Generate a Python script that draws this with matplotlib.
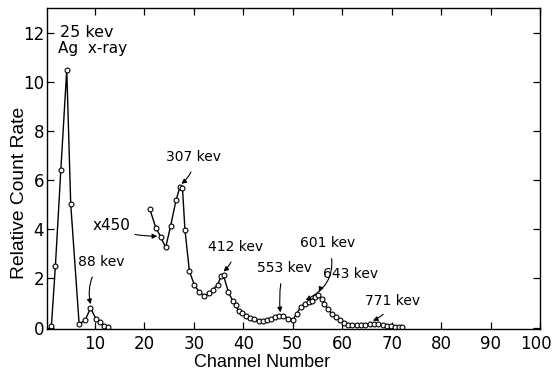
import matplotlib
matplotlib.use("Agg")
import matplotlib.pyplot as plt
from matplotlib.transforms import ScaledTranslation

plt.rcParams['font.family'] = ['DejaVu Sans']

# Low-energy part of the spectrum (Ag x-ray and 88 keV line)
low_channel = [1.2, 2.0, 3.1, 4.3, 5.1, 6.8, 8.0, 9.1, 10.2, 11.0, 11.9, 12.7]
low_rate = [0.08, 2.5, 6.42, 10.5, 5.03, 0.15, 0.29, 0.79, 0.36, 0.22, 0.08, 0.01]

# High-energy part, scaled up by a factor of 450
high_channel = [21.1, 22.3, 23.3, 24.3, 25.3, 26.4, 27.2, 27.7, 28.2, 29.1,
                30.1, 31.1, 32.1, 33.0, 33.8, 34.8, 35.5, 36.0, 37.0, 37.9,
                38.5, 39.1, 39.8, 40.6, 41.4, 42.2, 43.1, 43.9, 44.8, 45.6,
                46.5, 47.3, 48.1, 49.1, 50.0, 50.8, 51.6, 52.5, 53.2, 53.9,
                54.5, 55.2, 55.9, 56.4, 57.1, 57.9, 58.8, 59.6, 60.4, 61.1,
                62.0, 62.9, 63.8, 64.7, 65.6, 66.5, 67.3, 68.2, 69.0, 69.9,
                70.7, 71.4, 72.1]
high_rate = [4.82, 4.07, 3.69, 3.26, 4.13, 5.19, 5.73, 5.67, 3.99, 2.29,
             1.74, 1.44, 1.30, 1.40, 1.54, 1.74, 2.08, 2.12, 1.44, 1.07,
             0.90, 0.67, 0.58, 0.49, 0.38, 0.33, 0.27, 0.27, 0.31, 0.35,
             0.42, 0.49, 0.49, 0.36, 0.31, 0.56, 0.83, 0.97, 1.03, 1.10,
             1.24, 1.34, 1.17, 0.97, 0.76, 0.56, 0.42, 0.29, 0.20, 0.12,
             0.10, 0.10, 0.12, 0.12, 0.15, 0.16, 0.14, 0.10, 0.07, 0.05,
             0.04, 0.02, 0.02]

x_ticks = [10, 20, 30, 40, 50, 60, 70, 80, 90, 100]
y_ticks = [0, 2, 4, 6, 8, 10, 12]

# (text, text position, arrow tip, curvature) for each labelled line
line_labels = [
    ("88 kev", (6.6, 2.66), (9.1, 0.95), 0.25),
    ("307 kev", (24.4, 6.95), (27.5, 5.85), -0.25),
    ("412 kev", (32.8, 3.27), (36.0, 2.28), -0.2),
    ("553 kev", (42.7, 2.41), (47.5, 0.62), 0.1),
    ("601 kev", (51.5, 3.43), (52.6, 1.12), -0.45),
    ("643 kev", (56.2, 2.2), (55.3, 1.45), 0.35),
    ("771 kev", (64.7, 1.1), (66.2, 0.28), -0.2),
]

fig = plt.figure(figsize=(5.54, 3.71), dpi=100)
ax = fig.add_axes([0.0848, 0.1145, 0.8899, 0.8631])

style = dict(color='black', lw=1.0, marker='o', markersize=3.5,
             markerfacecolor='white', markeredgecolor='black', markeredgewidth=0.8)
ax.plot(low_channel, low_rate, **style)
ax.plot(high_channel, high_rate, **style)

ax.set_xlim(0.3, 100)
ax.set_ylim(-0.04, 13)
ax.set_xticks(x_ticks)
ax.set_yticks(y_ticks)
ax.tick_params(direction='in', length=5, width=0.9, labelsize=12,
               top=True, right=True)
ax.tick_params(axis='x', pad=4.5)
ax.tick_params(axis='y', pad=2)
for s in ax.spines.values():
    s.set_linewidth(1.0)

# keep the last tick label inside the canvas
last = ax.get_xticklabels()[-1]
last.set_transform(last.get_transform() + ScaledTranslation(-4 / 100, 0, fig.dpi_scale_trans))

ax.set_xlabel("Channel Number", fontsize=13, family='Liberation Sans')
ax.xaxis.label.set_va('baseline')
ax.xaxis.set_label_coords(0.436, -0.12)
ax.set_ylabel("Relative Count Rate", fontsize=13.9, family='Liberation Sans')
ax.yaxis.label.set_va('center')
ax.yaxis.set_label_coords(-0.055, 0.424)

ax.text(2.9, 12.0, "25 kev", fontsize=11.5, va='center', ha='left')
ax.text(2.5, 11.36, "Ag  x-ray", fontsize=11, va='center', ha='left')

# scale factor note with its curly pointer
ax.annotate("x450", xy=(22.6, 3.72), xytext=(9.6, 4.17), fontsize=11,
            va='center', ha='left',
            arrowprops=dict(arrowstyle='-|>', lw=0.8, color='black',
                            mutation_scale=7, shrinkA=1, shrinkB=0,
                            connectionstyle='angle3,angleA=-40,angleB=0'))

for text, pos, tip, rad in line_labels:
    ax.annotate(text, xy=tip, xytext=pos, fontsize=10, va='center', ha='left',
                arrowprops=dict(arrowstyle='-|>', lw=0.8, color='black',
                                mutation_scale=7, shrinkA=4, shrinkB=0,
                                connectionstyle=f'arc3,rad={rad}'))

fig.savefig("out.png", dpi=100)
